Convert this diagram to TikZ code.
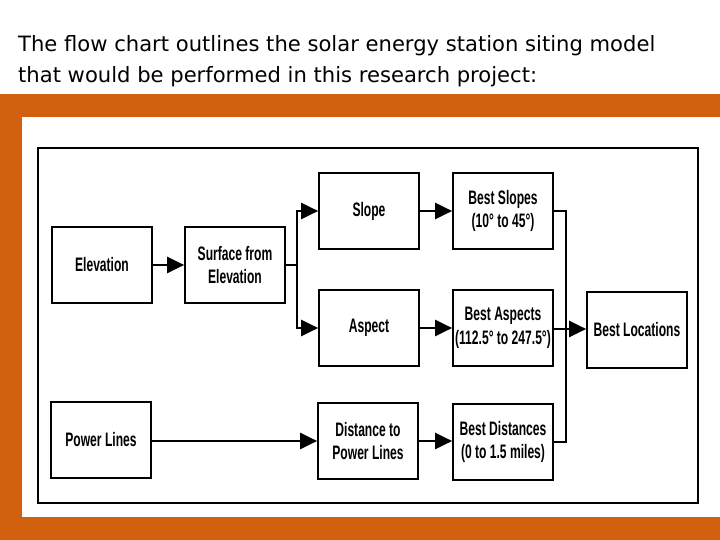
\documentclass[tikz,border=0pt]{standalone}
\usepackage{fontspec}
\setmainfont{DejaVu Sans}
\newfontfamily\boxfont[FakeStretch=0.62]{Liberation Sans}
\usetikzlibrary{arrows.meta,positioning}
\definecolor{band}{RGB}{209,97,14}

\begin{document}
\begin{tikzpicture}[x=1pt,y=-1pt,
  stage/.style={draw, line width=1.7pt, minimum width=100pt, minimum height=76pt,
    inner sep=1pt, align=center, font=\boxfont\bfseries\fontsize{19.5}{23.5}\selectfont},
  feed/.style={line width=2.4pt, -{Triangle[length=17pt,width=16pt]}},
  wire/.style={line width=1.6pt}]

\useasboundingbox (0,0) rectangle (720,540);

% heading
\node[anchor=base west, inner sep=0pt, font=\fontsize{21.1}{26}\selectfont] (title1) at (18,52)
  {The flow chart outlines the solar energy station siting model};
\node[anchor=base west, inner sep=0pt, font=\fontsize{21.1}{26}\selectfont] (title2) at (18,83)
  {that would be performed in this research project:};

% orange frame
\fill[band] (0,94) rectangle (720,117);
\fill[band] (0,94) rectangle (22,540);
\fill[band] (0,517) rectangle (720,540);

% outer border of the chart
\draw[line width=1.6pt] (38,148) rectangle (698,503);

% boxes
\node[stage] (elev)    at (102,265) {Elevation};
\node[stage] (surf)    at (235,265) {Surface from\\Elevation};
\node[stage] (slope)   at (369,211) {Slope};
\node[stage] (aspect)  at (369,328) {Aspect};
\node[stage] (bslope)  at (503,211) {Best Slopes\\(10° to 45°)};
\node[stage] (baspect) at (503,328) {Best Aspects\\(112.5° to 247.5°)};
\node[stage] (bloc)    at (637,330) {Best Locations};
\node[stage] (power)   at (101,440) {Power Lines};
\node[stage] (dist)    at (368,441) {Distance to\\Power Lines};
\node[stage] (bdist)   at (503,442) {Best Distances\\(0 to 1.5 miles)};

\coordinate (split) at (297,265);
\coordinate (join) at (566,329);

% connectors
\draw[feed] (elev) -- (surf);
\draw[wire] (surf) -- (split);
\draw[feed] (split) |- (slope);
\draw[feed] (split) |- (aspect);
\draw[feed] (slope) -- (bslope);
\draw[feed] (aspect) -- (baspect);
\draw[feed] (power.east |- dist) -- (dist);
\draw[feed] (dist) -- (bdist.west |- dist);
\draw[wire] (bslope) -| (join);
\draw[wire] (bdist) -| (join);
\draw[feed] (baspect.east |- join) -- (bloc.west |- join);

\end{tikzpicture}
\end{document}
